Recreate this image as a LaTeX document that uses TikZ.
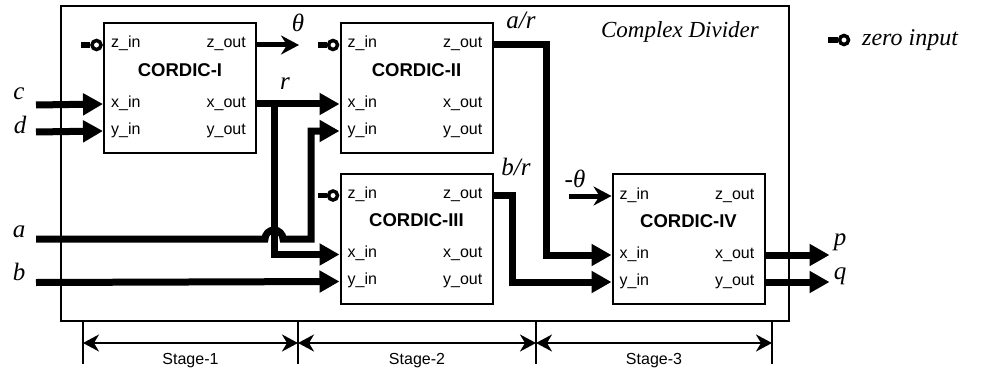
\documentclass[tikz,border=0pt]{standalone}
\usepackage{fontspec}
\setmainfont{Liberation Serif}
\setsansfont{Liberation Sans}
\usetikzlibrary{arrows.meta,calc}

\begin{document}
\begin{tikzpicture}[
    x=1pt, y=-1pt,
    cbox/.style={draw, line width=2pt, minimum width=152pt, minimum height=130pt, inner sep=0pt},
    port/.style={inner sep=0pt, font=\sffamily\fontsize{16}{18}\selectfont},
    ttl/.style={inner sep=0pt, font=\sffamily\bfseries\fontsize{18.5}{21}\selectfont},
    sig/.style={inner sep=0pt, font=\itshape\fontsize{25}{28}\selectfont},
    bus/.style={line width=7pt, line join=miter},
    busarr/.style={bus, -{Triangle[length=20pt,width=21pt]}},
    thinarr/.style={line width=5pt, -{Stealth[length=18pt,width=19pt,inset=6pt]}},
    dim/.style={line width=2pt, {Stealth[length=16pt,width=17pt,inset=5pt]}-{Stealth[length=16pt,width=17pt,inset=5pt]}},
    zin/.style={circle, draw, line width=3.5pt, fill=white, minimum size=9pt, inner sep=0pt},
    stage/.style={inner sep=0pt, font=\sffamily\fontsize{16}{18}\selectfont}
  ]
  \useasboundingbox (0,0) rectangle (984,377);

  % outer frame
  \node[draw, line width=2pt, minimum width=728pt, minimum height=315pt, inner sep=0pt] (cd) at (425,163.5) {};
  \node[inner sep=0pt, anchor=base, font=\itshape\fontsize{23}{27}\selectfont] (cdl) at (680,38) {Complex Divider};

  % the four cordic blocks
  \node[cbox] (c1) at (180,88) {};
  \node[cbox] (c2) at (416.5,88) {};
  \node[cbox] (c3) at (416.5,238.5) {};
  \node[cbox] (c4) at (688.5,239) {};

  \foreach \n/\lbl in {c1/CORDIC-I, c2/CORDIC-II, c3/CORDIC-III, c4/CORDIC-IV} {
    \coordinate (\n-zi) at ($(\n.north west)+(0,23)$);
    \coordinate (\n-xi) at ($(\n.north west)+(0,82)$);
    \coordinate (\n-yi) at ($(\n.north west)+(0,109)$);
    \coordinate (\n-zo) at ($(\n.north east)+(0,23)$);
    \coordinate (\n-xo) at ($(\n.north east)+(0,82)$);
    \coordinate (\n-yo) at ($(\n.north east)+(0,109)$);
    \node[port, anchor=base west] (\n-lzi) at ($(\n-zi)+(8,3)$) {z\_in};
    \node[port, anchor=base west] (\n-lxi) at ($(\n-xi)+(8,3)$) {x\_in};
    \node[port, anchor=base west] (\n-lyi) at ($(\n-yi)+(8,3)$) {y\_in};
    \node[port, anchor=base east] (\n-lzo) at ($(\n-zo)+(-11,3)$) {z\_out};
    \node[port, anchor=base east] (\n-lxo) at ($(\n-xo)+(-11,3)$) {x\_out};
    \node[port, anchor=base east] (\n-lyo) at ($(\n-yo)+(-11,3)$) {y\_out};
    \node[ttl] (\n-t) at ($(\n.north)+(0,48)$) {\lbl};
  }

  % zero inputs
  \foreach \n in {c1,c2,c3} {
    \node[zin] (\n-zc) at ($(\n-zi)+(-6.5,0)$) {};
    \draw[line width=5.5pt] (\n-zc.west) -- ++(-9,0);
  }

  % inputs
  \coordinate (ic) at (36,105);
  \coordinate (id) at (36,132);
  \coordinate (ia) at (36,239);
  \coordinate (ib) at (36,282.5);
  \node[sig, anchor=base] (lc) at (19,100) {c};
  \node[sig, anchor=base] (ld) at (20,133) {d};
  \node[sig, anchor=base] (la) at (19,237) {a};
  \node[sig, anchor=base] (lb) at (19,280) {b};
  \draw[busarr] (ic) -- (c1-xi);
  \draw[busarr] (id) -- (c1-yi);
  \draw[busarr] (ib) -- (c3-yi);

  % r branch and the crossing of a
  \coordinate (rj) at ($(c1-xo)+(17,0)$);
  \draw[busarr] (c1-xo) -- (c2-xi);
  \draw[busarr] (rj) |- (c3-xi);
  \draw[busarr] (ia) -- ($(rj |- ia)+(-9,0)$) arc[start angle=180, end angle=0, radius=9pt]
    -- ($(rj |- ia)+(37,0)$) |- (c2-yi);
  \node[sig, anchor=base] (lr) at (285,90) {r};

  % theta
  \coordinate (th) at ($(c1-zo)+(42,0)$);
  \draw[thinarr] (c1-zo) -- (th);
  \node[sig, anchor=base] (lth) at (298,32) {θ};

  % stage 2 to stage 3
  \draw[busarr] (c2-zo) -- ++(53,0) |- (c4-xi);
  \draw[busarr] (c3-zo) -- ++(19,0) |- (c4-yi);
  \node[sig, anchor=base] (lar) at (521,29) {a/r};
  \node[sig, anchor=base] (lbr) at (516,175) {b/r};
  \coordinate (nt) at ($(c4-zi)+(-43,0)$);
  \draw[thinarr] (nt) -- (c4-zi);
  \node[sig, anchor=base] (lnt) at (575,187) {-θ};

  % outputs
  \coordinate (op) at ($(c4-xo)+(64,0)$);
  \coordinate (oq) at ($(c4-yo)+(64,0)$);
  \draw[busarr] (c4-xo) -- (op);
  \draw[busarr] (c4-yo) -- (oq);
  \node[sig, anchor=base] (lp) at (840,245) {p};
  \node[sig, anchor=base] (lq) at (840,279) {q};

  % legend
  \node[zin] (lgc) at (844,40) {};
  \draw[line width=5.5pt] (lgc.west) -- ++(-10,0);
  \node[inner sep=0pt, anchor=base west, font=\itshape\fontsize{24}{28}\selectfont] (lgt) at (862,46) {zero input};

  % stages
  \foreach \x [count=\i] in {83,298,536,772} {
    \coordinate (t\i) at (\x,0 |- cd.south);
    \draw[line width=2.5pt] (t\i) -- ++(0,42);
  }
  \foreach \a/\b/\s in {1/2/Stage-1, 2/3/Stage-2, 3/4/Stage-3} {
    \draw[dim] ($(t\a)+(0,21)$) -- ($(t\b)+(0,21)$);
    \node[stage, anchor=base] (s\a) at ($($(t\a)!0.5!(t\b)$)+(0,42)$) {\s};
  }
\end{tikzpicture}
\end{document}
